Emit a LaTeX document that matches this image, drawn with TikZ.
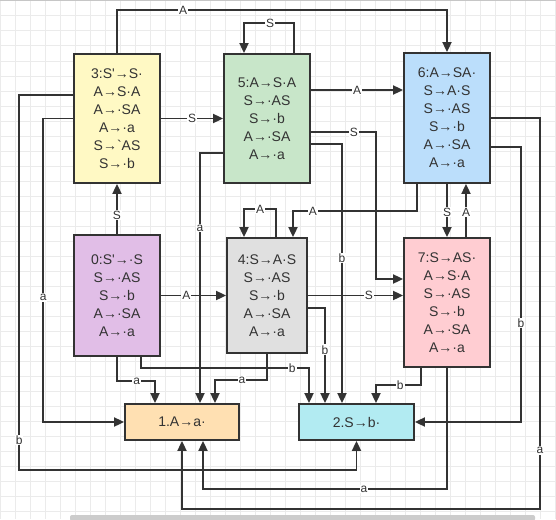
\documentclass[tikz,border=0pt]{standalone}
\usepackage{fontspec}
\setmainfont{Liberation Sans}[Ligatures=TeXOff]
\usetikzlibrary{arrows.meta}
\definecolor{ink}{HTML}{333333}
\definecolor{gridc}{HTML}{EBEBEB}
\definecolor{c0}{HTML}{E1BEE7}
\definecolor{c1}{HTML}{FFE0B2}
\definecolor{c2}{HTML}{B2EBF2}
\definecolor{c3}{HTML}{FFF9C4}
\definecolor{c4}{HTML}{E0E0E0}
\definecolor{c5}{HTML}{C8E6C9}
\definecolor{c6}{HTML}{BBDEFB}
\definecolor{c7}{HTML}{FFCDD2}

\begin{document}
\begin{tikzpicture}[x=1pt,y=-1pt,
  state/.style={draw=ink,line width=1.8pt,align=center,text=ink,inner sep=0pt,
    font=\fontsize{14}{18}\selectfont},
  edge/.style={draw=ink,line width=1.8pt,-{Triangle[length=10pt,width=9pt]}},
  lbl/.style={fill=white,text=ink,inner sep=1pt,font=\fontsize{12}{12}\selectfont}]
\useasboundingbox (0,0) rectangle (556,519);
\fill[white] (0,0) rectangle (556,519);
\foreach \i in {0,15,...,555} \draw[gridc,line width=1pt] (\i,0) -- (\i,519);
\foreach \j in {1,16,...,519} \draw[gridc,line width=1pt] (0,\j) -- (556,\j);
\draw[gray!45,line width=1.5pt] (0,0.5) -- (556,0.5);
\fill[gray!40,rounded corners=2pt] (70,515) rectangle (535,521);

\node[state,fill=c3,minimum width=86,minimum height=129] (s3) at (117,118.5)
  {3:S'→S·\\A→S·A\\A→·SA\\A→·a\\S→`AS\\S→·b};
\node[state,fill=c5,minimum width=86,minimum height=129] (s5) at (267,118.5)
  {5:A→S·A\\S→·AS\\S→·b\\A→·SA\\A→·a};
\node[state,fill=c6,minimum width=86,minimum height=130] (s6) at (447,118)
  {6:A→SA·\\S→A·S\\S→·AS\\S→·b\\A→·SA\\A→·a};
\node[state,fill=c0,minimum width=86,minimum height=121] (s0) at (117,295.5)
  {0:S'→·S\\S→·AS\\S→·b\\A→·SA\\A→·a};
\node[state,fill=c4,minimum width=80,minimum height=115] (s4) at (267,295.5)
  {4:S→A·S\\S→·AS\\S→·b\\A→·SA\\A→·a};
\node[state,fill=c7,minimum width=86,minimum height=129] (s7) at (447,302.5)
  {7:S→AS·\\A→S·A\\S→·AS\\S→·b\\A→·SA\\A→·a};
\node[state,fill=c1,minimum width=114,minimum height=36] (s1) at (182,422) {1.A→a·};
\node[state,fill=c2,minimum width=115,minimum height=36] (s2) at (356.5,422) {2.S→b·};

\draw[edge] (s3.north) -- ++(0,-43) -| node[lbl,pos=0.1]{A} (s6.north);
\draw[edge] ([xshift=27]s5.north) -- ++(0,-30) -| node[lbl,pos=0.24]{S} ([xshift=-23]s5.north);
\draw[edge] (s3) -- node[lbl]{S} (s5);
\draw[edge] ([yshift=28.5]s5.east) -- node[lbl]{A} ([yshift=28]s6.west);
\draw[edge] ([yshift=-13.5]s5.east) -- node[lbl,pos=0.66]{S} ++(65,0) |- ([yshift=23.5]s7.west);
\draw[edge] ([yshift=-25.5]s5.east) -| node[lbl,pos=0.72]{b} ([xshift=-14.5]s2.north);
\draw[edge] ([yshift=-34.5]s5.west) -| node[lbl,pos=0.65]{a} ([xshift=18]s1.north);
\draw[edge] ([xshift=-30]s6.south) -- ++(0,27) -| node[lbl,pos=0.42]{A} ([xshift=26]s4.north);
\draw[edge] ([xshift=9]s4.north) -- ++(0,-28) -| node[lbl,pos=0.25]{A} ([xshift=-23]s4.north);
\draw[edge] (s6.south) -- node[lbl,pos=0.53]{S} (s7.north);
\draw[edge] ([xshift=19]s7.north) -- node[lbl,pos=0.47]{A} ([xshift=19]s6.south);
\draw[edge] ([yshift=-29]s6.east) -- ++(30,0) |- node[lbl,pos=0.32]{b} (s2.east);
\draw[edge] (s6.east) -- ++(49,0) -- node[lbl,pos=0.85]{a} ++(0,391) -| (s1.south);
\draw[edge] (s3.west) -- ++(-30,0) |- node[lbl,pos=0.295]{a} (s1.west);
\draw[edge] ([yshift=23.5]s3.west) -- ++(-54,0) -- node[lbl,pos=0.92]{b} ++(0,375) -| (s2.south);
\draw[edge] (s0) -- node[lbl,pos=0.38]{S} (s3);
\draw[edge] (s0) -- node[lbl,pos=0.39]{A} (s4);
\draw[edge] (s0.south) -- ++(0,24) -| node[lbl,pos=0.26]{a} ([xshift=-27]s1.north);
\draw[edge] ([xshift=24]s0.south) -- ++(0,11) -| node[lbl,pos=0.45]{b} ([xshift=-47.5]s2.north);
\draw[edge] (s4.east) -- node[lbl,pos=0.64]{S} (s4.east -| s7.west);
\draw[edge] ([yshift=-12.5]s4.east) -| node[lbl,pos=0.72]{b} ([xshift=-31.5]s2.north);
\draw[edge] (s4.south) -- ++(0,26) -| node[lbl,pos=0.24]{a} ([xshift=33]s1.north);
\draw[edge] ([xshift=-26]s7.south) -- ++(0,17) -| node[lbl,pos=0.23]{b} ([xshift=19.5]s2.north);
\draw[edge] (s7.south) -- ++(0,121) -| node[lbl,pos=0.17]{a} ([xshift=21]s1.south);
\end{tikzpicture}
\end{document}
